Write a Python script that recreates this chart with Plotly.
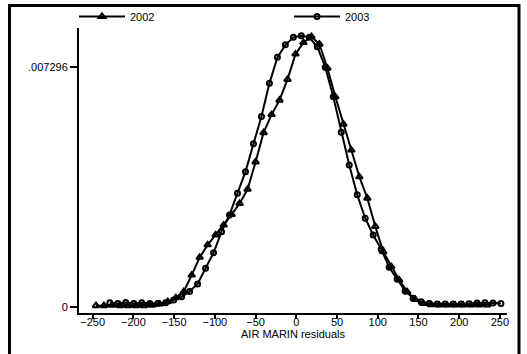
import plotly.graph_objects as go

# 2002 series (kernel density, triangles)
x2002 = [-246.0, -236.2, -226.4, -216.6, -206.8, -197.0, -187.2, -177.4, -167.6, -157.8,
         -148.0, -138.2, -128.4, -118.6, -108.8, -99.0, -89.2, -79.4, -69.6, -59.8,
         -50.0, -40.2, -30.4, -20.6, -10.8, -1.0, 8.8, 18.6, 28.4, 38.2,
         48.0, 57.8, 67.6, 77.4, 87.2, 97.0, 106.8, 116.6, 126.4, 136.2,
         146.0, 155.8, 165.6, 175.4, 185.2, 195.0, 204.8, 214.6, 224.4, 234.2]
y2002 = [0.03, 0.03, 0.04, 0.03, 0.03, 0.03, 0.03, 0.04, 0.08, 0.15,
         0.27, 0.46, 0.96, 1.50, 1.88, 2.18, 2.48, 2.80, 3.14, 3.57,
         4.40, 5.29, 5.84, 6.28, 6.91, 7.68, 8.03, 8.21, 7.98, 7.25,
         6.38, 5.55, 4.76, 3.95, 3.30, 2.44, 1.67, 1.22, 0.81, 0.45,
         0.22, 0.10, 0.06, 0.05, 0.05, 0.05, 0.05, 0.05, 0.05, 0.05]

# 2003 series (kernel density, circles)
x2003 = [-229.0, -219.2, -209.4, -199.6, -189.8, -180.0, -170.2, -160.4, -150.6, -140.8,
         -131.0, -121.2, -111.4, -101.6, -91.8, -82.0, -72.2, -62.4, -52.6, -42.8,
         -33.0, -23.2, -13.4, -3.6, 6.2, 16.0, 25.8, 35.6, 45.4, 55.2,
         65.0, 74.8, 84.6, 94.4, 104.2, 114.0, 123.8, 133.6, 143.4, 153.2,
         163.0, 172.8, 182.6, 192.4, 202.2, 212.0, 221.8, 231.6, 241.4, 251.2]
y2003 = [0.12, 0.10, 0.13, 0.10, 0.12, 0.10, 0.10, 0.12, 0.20, 0.30,
         0.46, 0.69, 1.17, 1.64, 2.28, 2.79, 3.45, 4.10, 4.95, 5.78,
         6.79, 7.58, 7.96, 8.19, 8.24, 8.19, 7.90, 7.28, 6.38, 5.30,
         4.31, 3.40, 2.69, 2.18, 1.75, 1.20, 0.84, 0.48, 0.26, 0.15,
         0.10, 0.08, 0.08, 0.08, 0.08, 0.09, 0.11, 0.12, 0.11, 0.10]

scale = 1e-3
xticks = [-250, -200, -150, -100, -50, 0, 50, 100, 150, 200, 250]
yticks = [0, 0.007296]
yticklabels = ["0", ".007296"]

FONT = "Liberation Sans, Arial, sans-serif"

fig = go.Figure()
fig.add_trace(go.Scatter(
    x=x2002, y=[v * scale for v in y2002], mode="lines+markers", name="2002",
    line=dict(color="black", width=2),
    marker=dict(symbol="triangle-up-open", size=6, color="black", line=dict(width=2, color="black")),
))
fig.add_trace(go.Scatter(
    x=x2003, y=[v * scale for v in y2003], mode="lines+markers", name="2003",
    line=dict(color="black", width=2),
    marker=dict(symbol="circle-open", size=5, color="black", line=dict(width=2, color="black")),
))

W, H = 527, 354
L, R, T, B = 79, 20, 28, 41
pw, ph = W - L - R, H - T - B


def px2paper_x(px):
    return (px - L) / pw


def px2paper_y(py):
    return (H - B - py) / ph


fig.update_layout(
    width=W, height=H,
    margin=dict(l=L, r=R, t=T, b=B, pad=0, autoexpand=False),
    paper_bgcolor="white", plot_bgcolor="white",
    font=dict(family=FONT, size=11, color="black"),
    showlegend=True,
    legend=dict(
        orientation="h", x=px2paper_x(74), y=px2paper_y(2), xanchor="left", yanchor="top",
        bgcolor="rgba(0,0,0,0)", font=dict(size=11), entrywidth=154, entrywidthmode="pixels",
        itemwidth=46, tracegroupgap=0,
    ),
    xaxis=dict(
        range=[-266.8, 258.7], tickvals=xticks, ticks="outside", ticklen=4, tickwidth=1.5,
        tickcolor="black", showline=True, linecolor="black", linewidth=2, showgrid=False,
        zeroline=False, title=dict(text="AIR MARIN residuals", standoff=0, font=dict(size=11)),
        tickfont=dict(size=11), ticklabelstandoff=-6,
    ),
    yaxis=dict(
        range=[-0.000192, 0.008473], tickvals=yticks, ticktext=yticklabels, ticks="outside",
        ticklen=7, tickwidth=1.5, tickcolor="black", showline=True, linecolor="black",
        linewidth=2, showgrid=False, zeroline=False, tickfont=dict(size=11),
    ),
    shapes=[dict(
        type="rect", xref="paper", yref="paper",
        x0=px2paper_x(9.5), x1=px2paper_x(519), y0=px2paper_y(370), y1=px2paper_y(5.5),
        line=dict(color="black", width=3), fillcolor="rgba(0,0,0,0)", layer="below",
    )],
)

fig.write_html("out.html", post_script="document.body.style.margin='0';",
               config={"displayModeBar": False})
